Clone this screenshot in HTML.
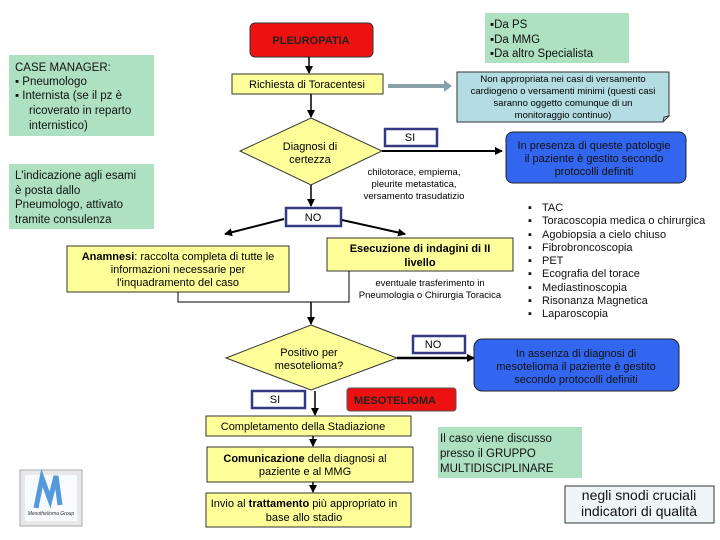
<!DOCTYPE html>
<html><head><meta charset="utf-8"><style>
html,body{margin:0;padding:0;background:#fff;}
svg{display:block;font-family:"Liberation Sans",sans-serif;}
</style></head><body>
<svg width="720" height="540" viewBox="0 0 720 540" xmlns="http://www.w3.org/2000/svg">
<defs>
<marker id="ah" markerWidth="8" markerHeight="8" refX="7" refY="4" orient="auto" markerUnits="userSpaceOnUse"><path d="M0,0 L8,4 L0,8 z" fill="#000"/></marker>
</defs>
<!-- green boxes -->
<rect x="485" y="13" width="144" height="50" fill="#aee0c2"/>
<text font-size="11.5" fill="#111"><tspan x="490" y="28">▪Da PS</tspan><tspan x="490" y="43">▪Da MMG</tspan><tspan x="490" y="57">▪Da altro Specialista</tspan></text>
<rect x="9" y="55" width="145" height="81" fill="#aee0c2"/>
<text font-size="11.5" fill="#111"><tspan x="15" y="71">CASE MANAGER:</tspan><tspan x="15" y="85">▪  Pneumologo</tspan><tspan x="15" y="99">▪  Internista (se il pz è</tspan><tspan x="29" y="114">ricoverato in reparto</tspan><tspan x="29" y="129">internistico)</tspan></text>
<rect x="9" y="164" width="145" height="65" fill="#aee0c2"/>
<text font-size="11.5" fill="#111"><tspan x="15" y="179">L'indicazione agli esami</tspan><tspan x="15" y="194">è posta dallo</tspan><tspan x="15" y="208">Pneumologo, attivato</tspan><tspan x="15" y="223">tramite consulenza</tspan></text>
<rect x="438" y="427" width="144" height="51" fill="#aee0c2"/>
<text font-size="11.5" fill="#111"><tspan x="440" y="442">Il caso viene discusso</tspan><tspan x="440" y="457">presso il GRUPPO</tspan><tspan x="440" y="472">MULTIDISCIPLINARE</tspan></text>

<!-- PLEUROPATIA -->
<rect x="250" y="23" width="123" height="34" rx="5" fill="#ee1111" stroke="#333"/>
<text x="311" y="44" font-size="11" font-weight="bold" fill="#222" text-anchor="middle">PLEUROPATIA</text>
<line x1="309" y1="57" x2="309" y2="73" stroke="#000" stroke-width="1.5" marker-end="url(#ah)"/>
<rect x="232" y="74" width="151" height="20" fill="#ffff99" stroke="#333"/>
<text x="307" y="88" font-size="11" text-anchor="middle">Richiesta di Toracentesi</text>
<line x1="388" y1="86" x2="446" y2="86" stroke="#8aa0a8" stroke-width="4"/>
<path d="M444,80 L452,86 L444,92 z" fill="#8aa0a8"/>
<path d="M457,72 L669,72 L669,116 L663,122 L457,122 z" fill="#b3dde3" stroke="#333"/>
<path d="M663,122 L664,117 L669,116" fill="none" stroke="#333"/>
<text font-size="9.5" text-anchor="middle"><tspan x="563" y="82">Non appropriata nei casi di versamento</tspan><tspan x="563" y="94">cardiogeno o versamenti minimi (questi casi</tspan><tspan x="563" y="106">saranno oggetto comunque di un</tspan><tspan x="563" y="118">monitoraggio continuo)</tspan></text>
<line x1="311" y1="94" x2="311" y2="117" stroke="#000" stroke-width="1.5" marker-end="url(#ah)"/>

<!-- diamond 1 -->
<path d="M311,118 L382,151 L311,185 L240,151 z" fill="#ffff99" stroke="#333"/>
<text font-size="11" text-anchor="middle"><tspan x="310" y="150">Diagnosi di</tspan><tspan x="310" y="163">certezza</tspan></text>
<rect x="385" y="129" width="52" height="17" fill="#fff" stroke="#333a80" stroke-width="2.5"/>
<text x="410" y="141" font-size="11" text-anchor="middle">SI</text>
<line x1="382" y1="151" x2="502" y2="151" stroke="#000" stroke-width="2" marker-end="url(#ah)"/>
<rect x="506" y="132" width="180" height="51" rx="7" fill="#3366ee" stroke="#222"/>
<text font-size="11" fill="#111" text-anchor="middle"><tspan x="594" y="149">In presenza di  queste patologie</tspan><tspan x="594" y="162">il paziente è gestito secondo</tspan><tspan x="594" y="175">protocolli definiti</tspan></text>
<text font-size="9.5" text-anchor="middle"><tspan x="414" y="175">chilotorace, empiema,</tspan><tspan x="414" y="187">pleurite metastatica,</tspan><tspan x="414" y="199">versamento trasudatizio</tspan></text>
<line x1="311" y1="185" x2="311" y2="206" stroke="#000" stroke-width="1.5" marker-end="url(#ah)"/>
<rect x="286" y="208" width="55" height="18" fill="#fff" stroke="#333a80" stroke-width="2.5"/>
<text x="313" y="221" font-size="11" text-anchor="middle">NO</text>
<line x1="284" y1="219" x2="225" y2="234" stroke="#000" stroke-width="2" marker-end="url(#ah)"/>
<line x1="342" y1="220" x2="405" y2="234" stroke="#000" stroke-width="2" marker-end="url(#ah)"/>

<rect x="67" y="246" width="222" height="46" fill="#ffff99" stroke="#333"/>
<text font-size="11" text-anchor="middle"><tspan x="178" y="260"><tspan font-weight="bold">Anamnesi</tspan>: raccolta completa di tutte le</tspan><tspan x="178" y="273">informazioni necessarie per</tspan><tspan x="178" y="286">l'inquadramento del caso</tspan></text>
<rect x="327" y="238" width="186" height="33" fill="#ffff99" stroke="#333"/>
<text font-size="11" font-weight="bold" text-anchor="middle"><tspan x="420" y="252">Esecuzione di indagini di II</tspan><tspan x="420" y="266">livello</tspan></text>
<text font-size="9.5" text-anchor="middle"><tspan x="430" y="286">eventuale trasferimento in</tspan><tspan x="430" y="298">Pneumologia o Chirurgia Toracica</tspan></text>
<path d="M178,292 L178,302 L349,302 L349,271" fill="none" stroke="#000"/>
<line x1="311" y1="302" x2="311" y2="324" stroke="#000" stroke-width="1.5" marker-end="url(#ah)"/>

<text font-size="11" fill="#111"><tspan x="528" y="211">▪</tspan><tspan x="542" y="211">TAC</tspan>
<tspan x="528" y="224">▪</tspan><tspan x="542" y="224">Toracoscopia medica o chirurgica</tspan>
<tspan x="528" y="238">▪</tspan><tspan x="542" y="238">Agobiopsia a cielo chiuso</tspan>
<tspan x="528" y="251">▪</tspan><tspan x="542" y="251">Fibrobroncoscopia</tspan>
<tspan x="528" y="264">▪</tspan><tspan x="542" y="264">PET</tspan>
<tspan x="528" y="277">▪</tspan><tspan x="542" y="277">Ecografia del torace</tspan>
<tspan x="528" y="291">▪</tspan><tspan x="542" y="291">Mediastinoscopia</tspan>
<tspan x="528" y="304">▪</tspan><tspan x="542" y="304">Risonanza Magnetica</tspan>
<tspan x="528" y="317">▪</tspan><tspan x="542" y="317">Laparoscopia</tspan></text>

<!-- diamond 2 -->
<path d="M311,325 L397,358 L311,390 L226,358 z" fill="#ffff99" stroke="#333"/>
<text font-size="11" text-anchor="middle"><tspan x="309" y="356">Positivo per</tspan><tspan x="309" y="369">mesotelioma?</tspan></text>
<rect x="413" y="336" width="52" height="17" fill="#fff" stroke="#333a80" stroke-width="2.5"/>
<text x="433" y="348" font-size="11" text-anchor="middle">NO</text>
<line x1="397" y1="358" x2="474" y2="358" stroke="#000" stroke-width="2.5" marker-end="url(#ah)"/>
<rect x="474" y="339" width="205" height="52" rx="8" fill="#3366ee" stroke="#222"/>
<text font-size="11" fill="#111" text-anchor="middle"><tspan x="576" y="357">In  assenza  di diagnosi di</tspan><tspan x="576" y="370">mesotelioma il paziente è gestito</tspan><tspan x="576" y="383">secondo protocolli definiti</tspan></text>
<rect x="252" y="391" width="53" height="17" fill="#fff" stroke="#333a80" stroke-width="2.5"/>
<text x="275" y="403" font-size="11" text-anchor="middle">SI</text>
<rect x="347" y="388" width="109" height="23" rx="3" fill="#ee1111" stroke="#555"/>
<text x="395" y="404" font-size="11" font-weight="bold" fill="#222" text-anchor="middle">MESOTELIOMA</text>
<line x1="315" y1="391" x2="315" y2="415" stroke="#000" stroke-width="1.5" marker-end="url(#ah)"/>
<rect x="206" y="416" width="205" height="20" fill="#ffff99" stroke="#333"/>
<text x="303" y="430" font-size="11" text-anchor="middle">Completamento della Stadiazione</text>
<line x1="313" y1="436" x2="313" y2="446" stroke="#000" stroke-width="1.5" marker-end="url(#ah)"/>
<rect x="207" y="447" width="206" height="35" fill="#ffff99" stroke="#333"/>
<text font-size="11" text-anchor="middle"><tspan x="305" y="462"><tspan font-weight="bold">Comunicazione</tspan> della diagnosi al</tspan><tspan x="305" y="475">paziente e al MMG</tspan></text>
<line x1="313" y1="482" x2="313" y2="492" stroke="#000" stroke-width="1.5" marker-end="url(#ah)"/>
<rect x="206" y="493" width="205" height="34" fill="#ffff99" stroke="#333"/>
<text font-size="11" text-anchor="middle"><tspan x="304" y="507">Invio al <tspan font-weight="bold">trattamento</tspan> più appropriato in</tspan><tspan x="304" y="521">base allo stadio</tspan></text>

<rect x="565" y="486" width="149" height="37" fill="#eef6f8" stroke="#333"/>
<text font-size="14" text-anchor="middle" fill="#111"><tspan x="639" y="500">negli snodi cruciali</tspan><tspan x="639" y="516">indicatori di qualità</tspan></text>

<!-- logo -->
<rect x="20" y="470" width="62" height="56" fill="#e8e8e8" stroke="#aaa"/>
<rect x="25" y="475" width="52" height="46" fill="#f8fbff"/>
<path d="M36,508 L42,478 L50,500 L56,476 L60,505" fill="none" stroke="#5599dd" stroke-width="5"/>
<text x="51" y="515" font-size="5" text-anchor="middle" font-style="italic" fill="#333">Mesothelioma Group</text>
</svg>
</body></html>
